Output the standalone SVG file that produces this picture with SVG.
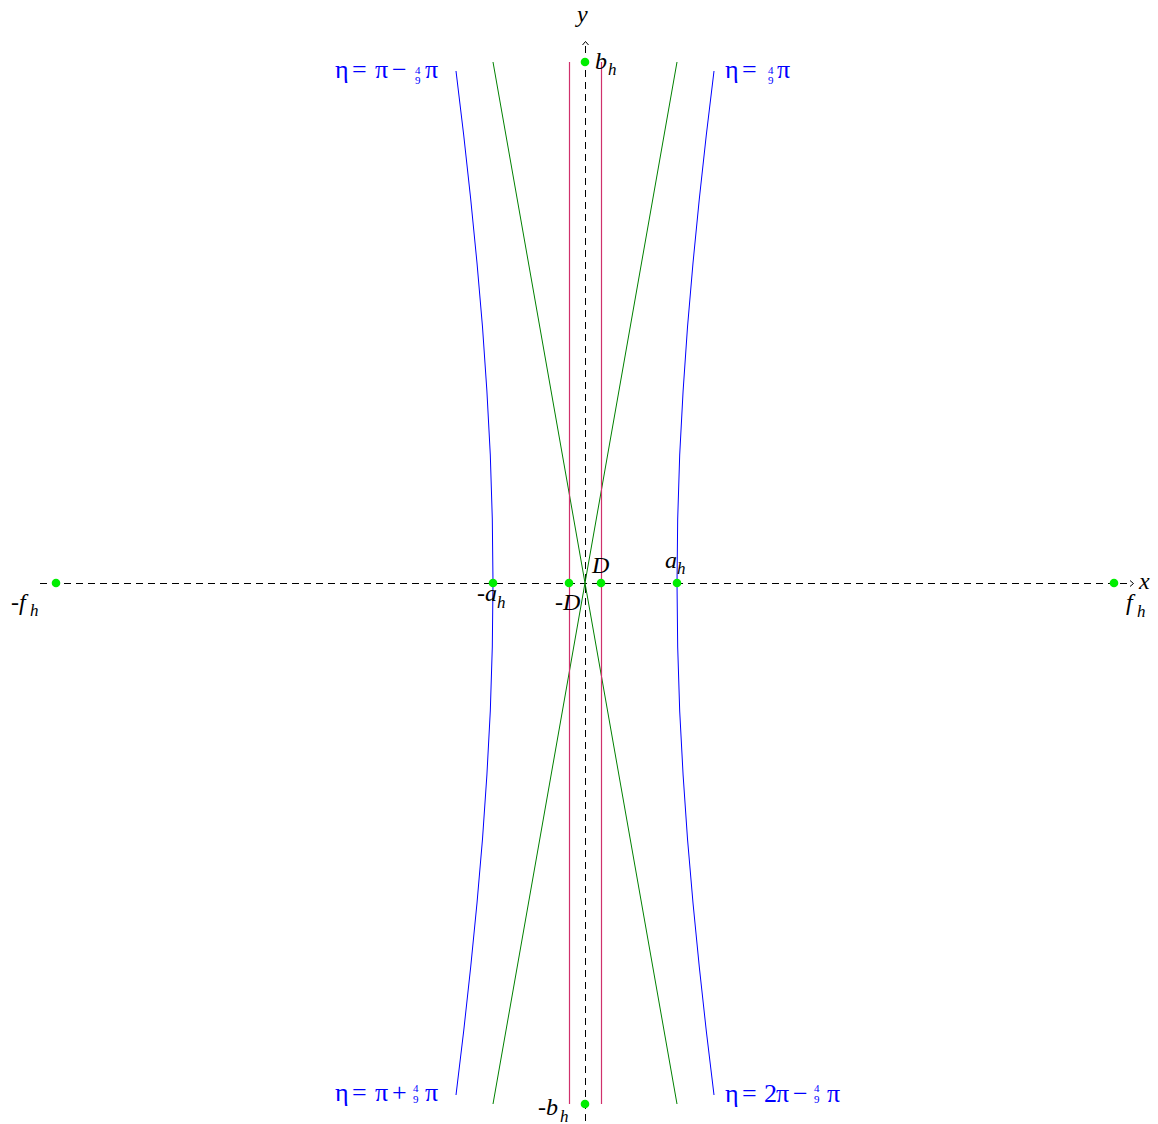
<svg xmlns="http://www.w3.org/2000/svg" width="1158" height="1124" viewBox="0 0 1158 1124">
<style>
.axis{stroke:#000;stroke-width:1;fill:none;stroke-dasharray:7 5}
.arr{stroke:#000;stroke-width:1;fill:none}
.hyp{stroke:#0000ff;stroke-width:1;fill:none}
.asy{stroke:#008000;stroke-width:1;fill:none}
.dir{stroke:#d0306c;stroke-width:1.2;fill:none}
.pt{fill:#00ee00}
.lbl{font-family:"Liberation Serif",serif;font-style:italic;font-size:24px;fill:#000}
.sub{font-size:17px}
.eta{font-family:"Liberation Serif",serif;font-size:26px;fill:#0000ff}
.fr{font-size:11px}
</style>
<rect width="1158" height="1124" fill="#fff"/>
<g id="connectors">
<line class="axis" x1="40" y1="583.5" x2="1131" y2="583.5"/>
<line class="axis" x1="585.5" y1="46" x2="585.5" y2="1124"/>
<polyline class="arr" points="1130,580.5 1133.5,583.5 1130,586.5"/>
<polyline class="arr" points="582.5,45 585.5,41.5 588.5,45"/>
<polyline class="hyp" points="714,71 706.3,135 699.3,199 693,263 687.5,327 683.1,391 679.7,455 677.7,519 677,583 677.7,647 679.7,711 683.1,775 687.5,839 693,903 699.3,967 706.3,1031 714,1095"/>
<polyline class="hyp" points="456,71 463.7,135 470.7,199 477,263 482.5,327 486.9,391 490.3,455 492.3,519 493,583 492.3,647 490.3,711 486.9,775 482.5,839 477,903 470.7,967 463.7,1031 456,1095"/>
<line class="asy" x1="493" y1="62" x2="677" y2="1104"/>
<line class="asy" x1="677" y1="62" x2="493" y2="1104"/>
<line class="dir" x1="569.5" y1="62" x2="569.5" y2="1104"/>
<line class="dir" x1="601.5" y1="62" x2="601.5" y2="1104"/>
</g>
<g id="node-neg-fh"><circle class="pt" cx="56" cy="583" r="4.3"/><text class="lbl" x="11" y="610">-f</text><text class="lbl sub" x="30" y="616">h</text></g>
<g id="node-fh"><circle class="pt" cx="1114" cy="583" r="4.3"/><text class="lbl" x="1126" y="610">f</text><text class="lbl sub" x="1137" y="617">h</text></g>
<g id="node-neg-ah"><circle class="pt" cx="493" cy="583" r="4.3"/><text class="lbl" x="477" y="601">-a</text><text class="lbl sub" x="497" y="608">h</text></g>
<g id="node-ah"><circle class="pt" cx="677" cy="583" r="4.3"/><text class="lbl" x="665" y="568">a</text><text class="lbl sub" x="677" y="574">h</text></g>
<g id="node-neg-D"><circle class="pt" cx="569" cy="583" r="4.3"/><text class="lbl" x="555" y="610">-D</text></g>
<g id="node-D"><circle class="pt" cx="601" cy="583" r="4.3"/><text class="lbl" x="592" y="573">D</text></g>
<g id="node-bh"><circle class="pt" cx="585" cy="62" r="4.3"/><text class="lbl" x="595" y="69">b</text><text class="lbl sub" x="608" y="75">h</text></g>
<g id="node-neg-bh"><circle class="pt" cx="585" cy="1104" r="4.3"/><text class="lbl" x="538" y="1115">-b</text><text class="lbl sub" x="560" y="1122">h</text></g>
<g id="label-axes"><text class="lbl" x="577" y="22">y</text><text class="lbl" x="1139" y="589">x</text></g>
<g id="label-eta-tl" class="eta">
<text x="335" y="78">η</text><text x="352" y="78">=</text><text x="375" y="78">π</text><text x="392" y="78">−</text>
<text class="fr" x="415" y="74">4</text><text class="fr" x="415" y="84">9</text><text x="425" y="78">π</text>
</g>
<g id="label-eta-tr" class="eta">
<text x="725" y="78">η</text><text x="742" y="78">=</text>
<text class="fr" x="768" y="74">4</text><text class="fr" x="768" y="84">9</text><text x="777" y="78">π</text>
</g>
<g id="label-eta-bl" class="eta">
<text x="335" y="1101">η</text><text x="352" y="1101">=</text><text x="375" y="1101">π</text><text x="392" y="1101">+</text>
<text class="fr" x="413" y="1092">4</text><text class="fr" x="413" y="1103">9</text><text x="425" y="1101">π</text>
</g>
<g id="label-eta-br" class="eta">
<text x="725" y="1102">η</text><text x="742" y="1102">=</text><text x="764" y="1102">2</text><text x="776" y="1102">π</text><text x="793" y="1102">−</text>
<text class="fr" x="814" y="1092">4</text><text class="fr" x="814" y="1103">9</text><text x="827" y="1102">π</text>
</g>
</svg>
